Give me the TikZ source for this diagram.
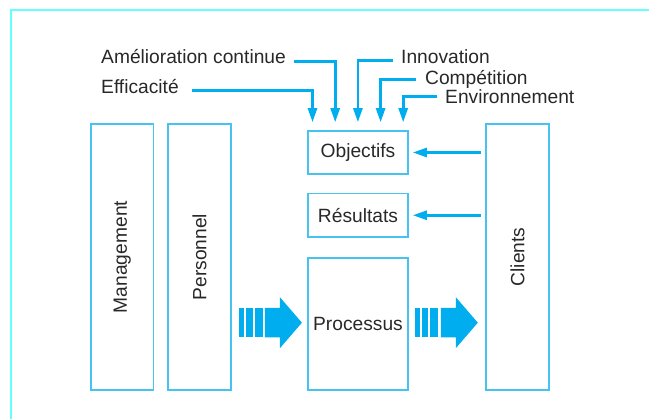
\documentclass[tikz,border=0pt]{standalone}
\usepackage{fontspec}
\setmainfont{Liberation Sans}
\usetikzlibrary{arrows.meta}
\definecolor{framecyan}{RGB}{102,255,255}
\definecolor{boxblue}{RGB}{70,195,240}
\definecolor{flowblue}{RGB}{0,174,239}
\definecolor{inkgray}{RGB}{40,40,40}
\tikzset{
  flowarrow/.pic={
    % striped block arrow, tip at the pic origin
    \fill[flowblue] (-62.7,-14.8) rectangle (-57.7,14.8);
    \fill[flowblue] (-56,-14.8) rectangle (-49.4,14.8);
    \fill[flowblue] (-47.4,-14.8) rectangle (-39.4,14.8);
    \fill[flowblue] (-37,-14.8) -- (-22,-14.8) -- (-22,-25.5) -- (0,0)
      -- (-22,25.5) -- (-22,14.8) -- (-37,14.8) -- cycle;
  }
}
\begin{document}
\begin{tikzpicture}[x=1pt,y=-1pt,
  every node/.style={font=\fontsize{19.2pt}{22pt}\selectfont, text=inkgray},
  box/.style={draw=boxblue, line width=1.6pt, inner sep=0pt},
  tag/.style={inner sep=0pt, anchor=base west},
  feed/.style={draw=flowblue, line width=2.6pt,
    -{Triangle[length=14pt,width=9pt]}},
  ]
\useasboundingbox (0,0) rectangle (649,419);
% outer frame (top and left edges)
\draw[framecyan, line width=2pt] (11,419) |- (649,10);

% boxes
\node[box, minimum width=62.5pt, minimum height=266pt] (mgmt) at (122.25,257) {};
\node[rotate=90] (mgmtlabel) at (mgmt.center) {Management};
\node[box, minimum width=63pt, minimum height=266pt] (pers) at (199.5,257) {};
\node[rotate=90] (perslabel) at (pers.center) {Personnel};
\node[box, minimum width=100pt, minimum height=132pt] (proc) at (358,324) {Processus};
\node[box, minimum width=100pt, minimum height=43pt] (obj) at (358,152.5) {Objectifs};
\node[box, minimum width=100pt, minimum height=43.5pt] (res) at (358,215.25) {Résultats};
\node[box, minimum width=63pt, minimum height=266pt] (cli) at (517.5,257) {};
\node[rotate=90] (clilabel) at (cli.center) {Clients};

% influence labels
\node[tag] (ame) at (101,63.5) {Amélioration continue};
\node[tag] (eff) at (101,93.5) {Efficacité};
\node[tag] (inno) at (401,64) {Innovation};
\node[tag] (comp) at (425,84.3) {Compétition};
\node[tag] (env) at (445,103.3) {Environnement};

% influences feeding the objectives
\draw[feed, shorten >=8pt] ([xshift=13pt,yshift=3pt]eff.base east) -| ([xshift=5.3pt]obj.north west);
\draw[feed, shorten >=8pt] ([xshift=8pt,yshift=2pt]ame.base east) -| ([xshift=28pt]obj.north west);
\draw[feed, shorten >=8pt] ([xshift=-8pt,yshift=3.3pt]inno.base west) -| ([xshift=50.7pt]obj.north west);
\draw[feed, shorten >=8pt] ([xshift=-9pt,yshift=5pt]comp.base west) -| ([xshift=73.4pt]obj.north west);
\draw[feed, shorten >=8pt] ([xshift=-8pt,yshift=6.6pt]env.base west) -| ([xshift=96pt]obj.north west);

% client feedback
\draw[feed, shorten <=4.5pt, shorten >=4pt] (cli.west |- obj.east) -- (obj.east);
\draw[feed, shorten <=4.5pt, shorten >=4pt] (cli.west |- res.east) -- (res.east);

% flow arrows
\pic at ([xshift=-5.3pt,yshift=1.3pt]proc.west) {flowarrow};
\pic at ([xshift=-7.4pt,yshift=1.3pt]cli.west |- proc.west) {flowarrow};
\end{tikzpicture}
\end{document}
